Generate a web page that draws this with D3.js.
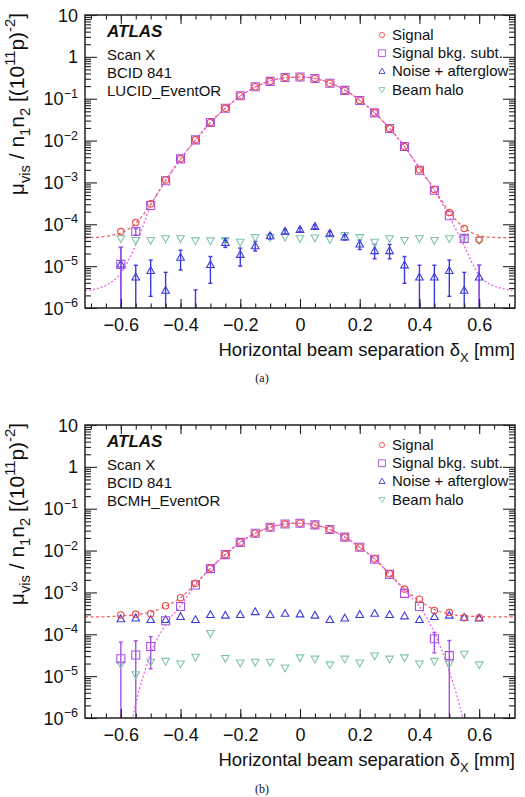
<!DOCTYPE html>
<html>
<head>
<meta charset="utf-8">
<script src="https://cdn.jsdelivr.net/npm/d3@7"></script>
<style>
  body { margin: 0; background: #fff; }
  svg { display: block; font-family: "Liberation Sans", Arial, sans-serif; }
</style>
</head>
<body>
<svg id="chart" width="525" height="797"></svg>
<script>
// beam separation of each scan step [mm]
const xPos = [-0.6, -0.55, -0.5, -0.45, -0.4, -0.35, -0.3, -0.25, -0.2, -0.15, -0.1, -0.05, 0,
  0.05, 0.1, 0.15, 0.2, 0.25, 0.3, 0.35, 0.4, 0.45, 0.5, 0.55, 0.6];

// ---- panel (a): LUCID_EventOR ----
const sigA = [6.7e-5, 1.1e-4, 3.1e-4, 1.15e-3, 3.7e-3, 0.0105, 0.027, 0.059, 0.118, 0.193, 0.26, 0.32, 0.33,
  0.305, 0.234, 0.158, 0.091, 0.046, 0.0195, 0.0072, 2.0e-3, 6.8e-4, 1.9e-4, 7.9e-5, 4.3e-5];
const subA = [1.1e-5, 6.7e-5, 2.8e-4, 1.1e-3, 3.65e-3, 0.0104, 0.027, 0.059, 0.118, 0.193, 0.26, 0.32, 0.33,
  0.305, 0.234, 0.158, 0.091, 0.046, 0.0195, 0.0072, 1.95e-3, 6.5e-4, 1.6e-4, 4.6e-5, 3e-7];
const subALo = [1e-8, 5.6e-5, null, null, null, null, null, null, null, null, null, null, null,
  null, null, null, null, null, null, null, null, null, null, 3.7e-5, 1e-8];
const subAHi = [2.8e-5, 7.8e-5, null, null, null, null, null, null, null, null, null, null, null,
  null, null, null, null, null, null, null, null, null, null, 5.4e-5, 1.05e-5];
const noiseA = [1.1e-5, 5.4e-6, 7.7e-6, 2.6e-6, 1.6e-5, 3e-7, 1.07e-5, 3.6e-5, 1.87e-5, 3.0e-5, 5.2e-5, 6.7e-5, 7.4e-5,
  8.7e-5, 6.0e-5, 4.9e-5, 3.3e-5, 2.3e-5, 2.3e-5, 1.05e-5, 5.4e-6, 5.4e-6, 7.7e-6, 2.6e-6, 5.4e-6];
const noiseALo = [1e-8, 1e-8, 1.9e-6, 1e-8, 8.1e-6, 1e-8, 3.9e-6, 2.8e-5, 1.0e-5, 2.3e-5, 4.4e-5, 5.9e-5, 6.6e-5,
  7.8e-5, 5.2e-5, 4.2e-5, 2.5e-5, 1.5e-5, 1.5e-5, 3.9e-6, 1e-8, 1e-8, 1.9e-6, 1e-8, 1e-8];
const noiseAHi = [2.8e-5, 1.05e-5, 1.4e-5, 7.1e-6, 2.4e-5, 2.7e-6, 1.7e-5, 4.6e-5, 2.7e-5, 3.9e-5, 6.0e-5, 7.5e-5, 8.2e-5,
  9.6e-5, 6.8e-5, 5.6e-5, 4.2e-5, 3.3e-5, 3.3e-5, 1.7e-5, 1.05e-5, 1.05e-5, 1.4e-5, 7.1e-6, 1.05e-5];
const haloA = [4.6e-5, 4.2e-5, 4.2e-5, 4.6e-5, 4.6e-5, 4.1e-5, 4.1e-5, 4.2e-5, 3.8e-5, 4.9e-5, 4.9e-5, 5.0e-5, 4.6e-5,
  4.8e-5, 4.4e-5, 5.5e-5, 4.9e-5, 3.8e-5, 4.6e-5, 4.2e-5, 4.6e-5, 4.2e-5, 4.6e-5, 4.9e-5, 4.2e-5];

// fit curves
const fitX = [-0.72, -0.68, -0.64, -0.6, -0.55, -0.5, -0.45, -0.4, -0.35, -0.3, -0.25, -0.2, -0.15, -0.1, -0.05, 0,
  0.05, 0.1, 0.15, 0.2, 0.25, 0.3, 0.35, 0.4, 0.45, 0.5, 0.55, 0.6, 0.64, 0.68, 0.72];
const fitSigA = [4.8e-5, 4.9e-5, 5.3e-5, 6.2e-5, 1.05e-4, 3.0e-4, 1.12e-3, 3.6e-3, 0.0103, 0.027, 0.059, 0.116, 0.19, 0.265, 0.315, 0.33,
  0.305, 0.238, 0.16, 0.092, 0.046, 0.0195, 0.0072, 2.2e-3, 6.8e-4, 2.0e-4, 8.2e-5, 5.4e-5, 4.9e-5, 4.8e-5, 4.8e-5];
const fitSubA = [2.6e-6, 2.9e-6, 3.8e-6, 6.8e-6, 3.2e-5, 2.75e-4, 1.1e-3, 3.6e-3, 0.0103, 0.027, 0.059, 0.116, 0.19, 0.265, 0.315, 0.33,
  0.305, 0.238, 0.16, 0.092, 0.046, 0.0195, 0.0072, 2.15e-3, 6.4e-4, 1.55e-4, 3.0e-5, 6.0e-6, 3.6e-6, 2.9e-6, 2.6e-6];

// ---- panel (b): BCMH_EventOR ----
const sigB = [2.9e-4, 3.0e-4, 3.1e-4, 4.8e-4, 7.5e-4, 1.66e-3, 3.8e-3, 8.1e-3, 0.0158, 0.026, 0.036, 0.043, 0.045,
  0.041, 0.032, 0.021, 0.012, 6.3e-3, 2.8e-3, 1.2e-3, 6.9e-4, 3.7e-4, 3.3e-4, 2.5e-4, 2.5e-4];
const subB = [2.6e-5, 3.2e-5, 5.1e-5, 2.1e-4, 4.6e-4, 1.5e-3, 3.7e-3, 8.0e-3, 0.0157, 0.026, 0.036, 0.043, 0.045,
  0.041, 0.032, 0.021, 0.012, 6.2e-3, 2.7e-3, 9.5e-4, 4.6e-4, 7.8e-5, 3.1e-5, null, null];
const subBLo = [1e-8, 1e-8, 1.5e-5, null, null, null, null, null, null, null, null, null, null,
  null, null, null, null, null, null, null, null, 3.6e-5, 1e-8, null, null];
const subBHi = [6.5e-5, 7.0e-5, 8.8e-5, null, null, null, null, null, null, null, null, null, null,
  null, null, null, null, null, null, null, null, 1.1e-4, 7.1e-5, null, null];
const noiseB = [2.3e-4, 2.4e-4, 2.2e-4, 2.2e-4, 2.6e-4, 2.2e-4, 2.9e-4, 2.8e-4, 2.9e-4, 3.4e-4, 2.9e-4, 3.1e-4, 3.0e-4,
  2.8e-4, 2.2e-4, 2.4e-4, 2.9e-4, 3.1e-4, 2.9e-4, 2.7e-4, 2.2e-4, 2.6e-4, 2.8e-4, 2.5e-4, 2.4e-4];
const haloB = [1.9e-5, 1.1e-5, 2.2e-5, 2.3e-5, 2.0e-5, 2.9e-5, 1.07e-4, 2.7e-5, 2.1e-5, 2.2e-5, 2.2e-5, 1.6e-5, 2.8e-5,
  2.6e-5, 1.9e-5, 2.6e-5, 2.1e-5, 3.1e-5, 2.6e-5, 2.8e-5, 2.0e-5, 2.3e-5, 2.0e-5, 3.4e-5, 1.9e-5];
const fitSigB = [2.6e-4, 2.6e-4, 2.65e-4, 2.75e-4, 2.95e-4, 3.4e-4, 4.7e-4, 7.5e-4, 1.6e-3, 3.8e-3, 8.1e-3, 0.0158, 0.026, 0.036, 0.043, 0.045,
  0.041, 0.032, 0.021, 0.012, 6.3e-3, 2.8e-3, 1.2e-3, 6.3e-4, 3.9e-4, 3.05e-4, 2.75e-4, 2.65e-4, 2.6e-4, 2.6e-4, 2.6e-4];
const fitSubXB = [-0.575, -0.56, -0.55, -0.525, -0.5, -0.45, -0.4, -0.35, -0.3, -0.25, -0.2, -0.15, -0.1, -0.05, 0,
  0.05, 0.1, 0.15, 0.2, 0.25, 0.3, 0.35, 0.4, 0.45, 0.5, 0.525, 0.545, 0.56];
const fitSubB = [3e-7, 1e-6, 2.2e-6, 1.0e-5, 3.5e-5, 1.7e-4, 4.8e-4, 1.5e-3, 3.7e-3, 8.0e-3, 0.0157, 0.026, 0.036, 0.043, 0.045,
  0.041, 0.032, 0.021, 0.012, 6.2e-3, 2.7e-3, 1.1e-3, 4.6e-4, 1.1e-4, 1.3e-5, 3.5e-6, 1e-6, 3e-7];

// axis ticks and labels
const xTickVals = [-0.6, -0.4, -0.2, 0, 0.2, 0.4, 0.6];
const xTickLabels = ['\u22120.6', '\u22120.4', '\u22120.2', '0', '0.2', '0.4', '0.6'];
const yTickExps = [1, 0, -1, -2, -3, -4, -5, -6];
const legendNames = ['Signal', 'Signal bkg. subt.', 'Noise + afterglow', 'Beam halo'];

const colors = {
  sig: '#ec4848', sub: '#a850e4', noise: '#3c3cdc', halo: '#80c4ac',
  fitSig: '#f05a5a', fitSub: '#e85ae4'
};

const plotW = 430, plotH = 293, left = 85;
const svg = d3.select('#chart');

// text with sub/superscripts
function rich(sel, parts, fs) {
  let shift = 0;
  parts.forEach(p => {
    const target = p.sub ? fs * 0.3 : p.sup ? -fs * 0.42 : 0;
    sel.append('tspan')
      .attr('dy', target - shift)
      .attr('font-size', (p.sub || p.sup) ? fs * 0.7 : fs)
      .text(p.t);
    shift = target;
  });
}

const markerPath = {
  circle: 'M3.2,0A3.2,3.2 0 1,1 -3.2,0A3.2,3.2 0 1,1 3.2,0Z',
  square: 'M-4,-4H4V4H-4Z',
  up: 'M0,-4.2L3.8,2.6H-3.8Z',
  down: 'M0,4.2L3.8,-2.6H-3.8Z'
};

function drawPanel(top, p, id) {
  const g = svg.append('g').attr('transform', `translate(${left},${top})`);
  const x = d3.scaleLinear().domain([-0.72, 0.72]).range([0, plotW]);
  const y = d3.scaleLog().domain([1e-6, 10]).range([plotH, 0]);

  g.append('clipPath').attr('id', 'clip' + id)
    .append('rect').attr('width', plotW).attr('height', plotH);
  const plot = g.append('g').attr('clip-path', `url(#clip${id})`);

  // fits
  const line = (xs) => d3.line()
    .x((d, i) => x(xs[i]))
    .y(d => y(d))
    .curve(d3.curveMonotoneX);
  plot.append('path').datum(p.fitSig)
    .attr('d', line(fitX)).attr('fill', 'none')
    .attr('stroke', colors.fitSig).attr('stroke-width', 1.2).attr('stroke-dasharray', '3,2.5');
  plot.append('path').datum(p.fitSub)
    .attr('d', line(p.fitSubX)).attr('fill', 'none')
    .attr('stroke', colors.fitSub).attr('stroke-width', 1.2).attr('stroke-dasharray', '2,2');

  // error bars
  function errBars(lo, hi, color) {
    const idx = xPos.map((d, i) => i).filter(i => lo[i] != null && hi[i] != null);
    const eb = plot.append('g').attr('stroke', color).attr('stroke-width', 1.4);
    eb.selectAll('line.v').data(idx).join('line')
      .attr('x1', i => x(xPos[i])).attr('x2', i => x(xPos[i]))
      .attr('y1', i => y(lo[i])).attr('y2', i => y(hi[i]));
    eb.selectAll('line.hi').data(idx).join('line')
      .attr('x1', i => x(xPos[i]) - 2).attr('x2', i => x(xPos[i]) + 2)
      .attr('y1', i => y(hi[i])).attr('y2', i => y(hi[i]));
    eb.selectAll('line.lo').data(idx).join('line')
      .attr('x1', i => x(xPos[i]) - 2).attr('x2', i => x(xPos[i]) + 2)
      .attr('y1', i => y(lo[i])).attr('y2', i => y(lo[i]));
  }
  errBars(p.noiseLo, p.noiseHi, colors.noise);
  errBars(p.subLo, p.subHi, colors.sub);

  function markers(vals, shape, color) {
    plot.append('g').selectAll('path')
      .data(xPos.map((d, i) => [d, vals[i]]).filter(d => d[1] != null))
      .join('path')
      .attr('d', markerPath[shape])
      .attr('transform', d => `translate(${x(d[0])},${y(d[1])})`)
      .attr('fill', 'none').attr('stroke', color).attr('stroke-width', 1.1);
  }
  markers(p.halo, 'down', colors.halo);
  markers(p.noise, 'up', colors.noise);
  markers(p.sub, 'square', colors.sub);
  markers(p.sig, 'circle', colors.sig);

  // axes: bottom/top
  const xMinor = d3.range(-0.7, 0.7001, 0.05);
  const yMinor = [];
  yTickExps.slice(1).forEach(e => { for (let k = 2; k <= 9; k++) yMinor.push(k * Math.pow(10, e)); });

  const axisStyle = sel => {
    sel.select('.domain').remove();
    sel.selectAll('line').attr('stroke', '#222').attr('stroke-width', 1.1);
  };
  g.append('g').attr('transform', `translate(0,${plotH})`)
    .call(d3.axisBottom(x).tickValues(xTickVals).tickSize(-9).tickFormat((d, i) => xTickLabels[i]).tickPadding(6))
    .call(axisStyle)
    .call(s => s.selectAll('text').attr('font-size', 18).attr('fill', '#111').attr('font-family', '"Liberation Sans", Arial, sans-serif').attr('dy', '0.95em'));
  g.append('g').attr('transform', `translate(0,${plotH})`)
    .call(d3.axisBottom(x).tickValues(xMinor).tickSize(-4.5).tickFormat(''))
    .call(axisStyle);
  g.append('g')
    .call(d3.axisTop(x).tickValues(xTickVals).tickSize(-9).tickFormat(''))
    .call(axisStyle);
  g.append('g')
    .call(d3.axisTop(x).tickValues(xMinor).tickSize(-4.5).tickFormat(''))
    .call(axisStyle);

  // axes: left/right
  const yMajor = yTickExps.map(e => Math.pow(10, e));
  g.append('g').call(d3.axisLeft(y).tickValues(yMajor).tickSize(-12).tickFormat('')).call(axisStyle);
  g.append('g').call(d3.axisLeft(y).tickValues(yMinor).tickSize(-6).tickFormat('')).call(axisStyle);
  g.append('g').attr('transform', `translate(${plotW},0)`)
    .call(d3.axisRight(y).tickValues(yMajor).tickSize(-12).tickFormat('')).call(axisStyle);
  g.append('g').attr('transform', `translate(${plotW},0)`)
    .call(d3.axisRight(y).tickValues(yMinor).tickSize(-6).tickFormat('')).call(axisStyle);

  // y tick labels
  yTickExps.forEach(e => {
    const t = g.append('text').attr('x', -7).attr('y', y(Math.pow(10, e)) + 6.5)
      .attr('text-anchor', 'end').attr('fill', '#111');
    if (e === 0) rich(t, [{ t: '1' }], 18);
    else if (e === 1) rich(t, [{ t: '10' }], 18);
    else rich(t, [{ t: '10' }, { t: '\u2212' + (-e), sup: true }], 18);
  });

  // frame
  g.append('rect').attr('width', plotW).attr('height', plotH)
    .attr('fill', 'none').attr('stroke', '#222').attr('stroke-width', 1.5);

  // axis titles
  const xt = g.append('text').attr('x', plotW).attr('y', plotH + 48)
    .attr('text-anchor', 'end').attr('fill', '#111');
  rich(xt, [{ t: 'Horizontal beam separation \u03B4' }, { t: 'X', sub: true }, { t: ' [mm]' }], 18.5);

  const yt = g.append('text').attr('transform', `translate(${24 - left},-2) rotate(-90)`)
    .attr('text-anchor', 'end').attr('fill', '#111');
  rich(yt, [{ t: '\u03BC' }, { t: 'vis', sub: true }, { t: ' / n' }, { t: '1', sub: true }, { t: 'n' }, { t: '2', sub: true },
    { t: ' [(10' }, { t: '11', sup: true }, { t: 'p)' }, { t: '-2', sup: true }, { t: ']' }], 21);

  // labels in plot
  g.append('text').attr('x', 22).attr('y', 22).attr('font-size', 17)
    .attr('font-weight', 'bold').attr('font-style', 'italic').attr('fill', '#111').text('ATLAS');
  ['Scan X', 'BCID 841', p.detector].forEach((s, i) => {
    g.append('text').attr('x', 22).attr('y', 44.5 + i * 18.3).attr('font-size', 15)
      .attr('fill', '#111').text(s);
  });

  // legend
  const shapes = ['circle', 'square', 'up', 'down'];
  const lcol = [colors.sig, colors.sub, colors.noise, colors.halo];
  legendNames.forEach((name, i) => {
    const yy = 25 + i * 18.2;
    g.append('path').attr('d', markerPath[shapes[i]])
      .attr('transform', `translate(297,${yy - 5}) scale(${shapes[i] === 'square' ? 0.85 : 0.8})`)
      .attr('fill', 'none').attr('stroke', lcol[i]).attr('stroke-width', 1.1);
    g.append('text').attr('x', 307).attr('y', yy).attr('font-size', 15).attr('fill', '#111').text(name);
  });

  // caption
  svg.append('text').attr('x', 262).attr('y', top + p.captionY).attr('text-anchor', 'middle')
    .attr('font-family', '"Liberation Serif", "Times New Roman", serif').attr('font-size', 12)
    .attr('fill', '#111').text(p.caption);
}

drawPanel(15, {
  sig: sigA, sub: subA, subLo: subALo, subHi: subAHi, noise: noiseA, noiseLo: noiseALo, noiseHi: noiseAHi,
  halo: haloA, fitSig: fitSigA, fitSub: fitSubA, fitSubX: fitX, detector: 'LUCID_EventOR', caption: '(a)', captionY: 367
}, 'a');
drawPanel(425, {
  sig: sigB, sub: subB, subLo: subBLo, subHi: subBHi, noise: noiseB, noiseLo: noiseB.map(() => null), noiseHi: noiseB.map(() => null),
  halo: haloB, fitSig: fitSigB, fitSub: fitSubB, fitSubX: fitSubXB, detector: 'BCMH_EventOR', caption: '(b)', captionY: 368
}, 'b');
</script>
</body>
</html>
